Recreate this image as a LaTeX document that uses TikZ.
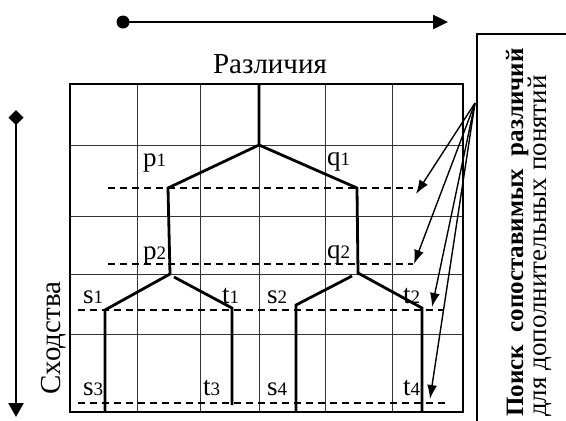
\documentclass[tikz,border=0pt]{standalone}
\usepackage{fontspec}
\setmainfont{Liberation Serif}
\usetikzlibrary{arrows.meta}
\newcommand\mylab[2]{#1{\fontsize{19}{19}\selectfont #2}}
\tikzset{
  grid/.style={line width=0.9pt, black!80},
  tree/.style={line width=2.8pt, line join=miter},
  dline/.style={line width=1.2pt, dash pattern=on 7pt off 5pt},
  lbl/.style={anchor=base west, inner sep=0pt, font=\fontsize{27}{29}\selectfont},
  ptr/.style={line width=1.4pt, -{Latex[length=14pt,width=10pt]}},
  bigarrow/.style={line width=2.5pt},
}
\begin{document}
\begin{tikzpicture}[x=1pt,y=-1pt]
\useasboundingbox (0,0) rectangle (566,421);
% grid
\foreach \x in {137,200,259,325,392}
  \draw[grid] (\x,84) -- (\x,412);
\foreach \y in {145,216,274,334}
  \draw[grid] (70,\y) -- (463,\y);
\draw[line width=1.3pt] (70,84) rectangle (463,412);
% dashed levels
\coordinate (d1a) at (108,188); \coordinate (d1b) at (413,188);
\coordinate (d2a) at (108,264); \coordinate (d2b) at (413,264);
\coordinate (d3a) at (78,310);  \coordinate (d3b) at (443,310);
\coordinate (d4a) at (78,403);  \coordinate (d4b) at (445,403);
\draw[dline] (d1a) -- (d1b);
\draw[dline] (d2a) -- (d2b);
\draw[dline] (d3a) -- (d3b);
\draw[dline] (d4a) -- (d4b);
% tree
\coordinate (root) at (259,84);
\coordinate (r1) at (259,145);
\coordinate (p1) at (168,188);
\coordinate (q1) at (357,188);
\coordinate (p2) at (170,274);
\coordinate (q2) at (358,273);
\coordinate (s1) at (105,310);
\coordinate (s3) at (105,412);
\coordinate (t1s) at (174,277);
\coordinate (t1) at (232,308);
\coordinate (t3) at (232,405);
\coordinate (s2s) at (352,276);
\coordinate (s2) at (296,305);
\coordinate (s4) at (296,412);
\coordinate (t2) at (422,308);
\coordinate (t4) at (422,412);
\draw[tree] (root) -- (r1) -- (p1) -- (p2) -- (s1) -- (s3);
\draw[tree] (r1) -- (q1) -- (q2) -- (t2) -- (t4);
\draw[tree] (t1s) -- (t1) -- (t3);
\draw[tree] (s2s) -- (s2) -- (s4);
% labels
\node[lbl] (lp1) at (143,166) {\mylab{p}{1}};
\node[lbl] (lq1) at (327,165) {\mylab{q}{1}};
\node[lbl] (lp2) at (143,259) {\mylab{p}{2}};
\node[lbl] (lq2) at (327,258) {\mylab{q}{2}};
\node[lbl] (ls1) at (83,303) {\mylab{s}{1}};
\node[lbl] (lt1) at (222,303) {\mylab{t}{1}};
\node[lbl] (ls2) at (267,303) {\mylab{s}{2}};
\node[lbl] (lt2) at (403,303) {\mylab{t}{2}};
\node[lbl] (ls3) at (83,395) {\mylab{s}{3}};
\node[lbl] (lt3) at (203,395) {\mylab{t}{3}};
\node[lbl] (ls4) at (267,395) {\mylab{s}{4}};
\node[lbl] (lt4) at (403,395) {\mylab{t}{4}};
% titles
\node[anchor=base, inner sep=0pt, font=\fontsize{29}{31}\selectfont] (diff) at (270,73) {Различия};
\node[anchor=base, inner sep=0pt, rotate=90, font=\fontsize{29}{31}\selectfont] (sim) at (60,338) {Сходства};
% top arrow
\node[circle, fill, inner sep=0pt, minimum size=13pt] (dot) at (123,22) {};
\coordinate (topend) at (448,22);
\draw[bigarrow, -{Triangle[length=15pt,width=14pt]}] (dot.center) -- (topend);
% left arrow
\coordinate (lstart) at (16,110);
\coordinate (lend) at (16,417);
\draw[bigarrow, {Diamond[length=15pt,width=15pt]}-{Triangle[length=14pt,width=15pt]}] (lstart) -- (lend);
% right box
\coordinate (bx1) at (477,421);
\coordinate (bx2) at (477,34);
\coordinate (bx3) at (566,34);
\draw[line width=1.3pt] (bx1) -- (bx2) -- (bx3);
\node[anchor=base west, inner sep=0pt, rotate=90, font=\fontsize{25}{25}\selectfont\bfseries] (note1) at (523,417) {Поиск\ \ сопоставимых\ \ различий};
\node[anchor=base west, inner sep=0pt, rotate=90, font=\fontsize{27}{27}\selectfont] (note2) at (546,417) {для дополнительных понятий};
% pointers
\coordinate (src) at (475,103);
\coordinate (a1) at (416,194);
\coordinate (a2) at (414,264);
\coordinate (a3) at (432,307);
\coordinate (a4) at (430,399);
\draw[ptr] (src) -- (a1);
\draw[ptr] (src) -- (a2);
\draw[ptr] (src) -- (a3);
\draw[ptr] (src) -- (a4);
\end{tikzpicture}
\end{document}
